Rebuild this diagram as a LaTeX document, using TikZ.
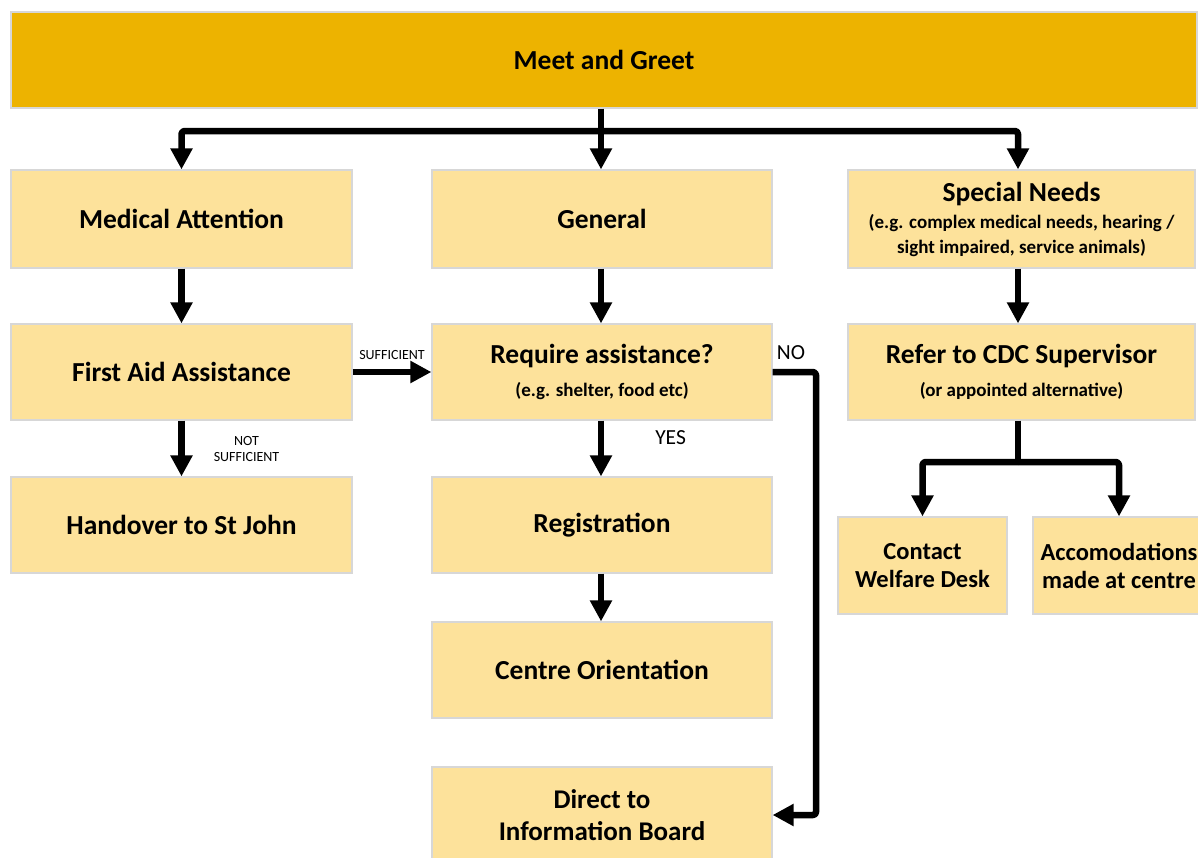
\documentclass[tikz,border=0pt]{standalone}
\usepackage{fontspec}
\setmainfont{Carlito}
\usetikzlibrary{arrows.meta}
\definecolor{boxfill}{RGB}{253,226,155}
\definecolor{barfill}{RGB}{237,179,0}
\definecolor{boxline}{RGB}{215,215,215}
\tikzset{
  box/.style={draw=boxline, line width=1.2pt, fill=boxfill, inner sep=0pt, align=center,
    font=\bfseries\fontsize{27.5}{32}\selectfont},
  topbar/.style={box, fill=barfill},
  link/.style={line width=6.5pt, line join=round, rounded corners=3pt},
  arr/.style={link, -{Triangle[width=21pt,length=21pt]}},
  tag/.style={font=\fontsize{14}{16}\selectfont, align=center, inner sep=1pt},
  bigtag/.style={font=\fontsize{21.5}{24}\selectfont, inner sep=1pt}
}
\newcommand{\subline}[1]{{\fontsize{19}{25}\selectfont #1}}
\begin{document}
\begin{tikzpicture}[x=1pt,y=-1pt]
\useasboundingbox (0,0) rectangle (1198,857);

% header
\node[topbar, minimum width=1186pt, minimum height=96pt] (greet) at (604,60) {Meet and Greet};

% first row
\node[box, minimum width=341pt, minimum height=98pt] (med) at (181.5,219) {Medical Attention};
\node[box, minimum width=340pt, minimum height=98pt] (gen) at (602,219) {General};
\node[box, minimum width=347pt, minimum height=98pt] (spec) at (1021.5,219)
  {Special Needs\\[-5pt]\subline{(e.g. complex medical needs, hearing /}\\[-7pt]\subline{sight impaired, service animals)}};

% second row
\node[box, minimum width=341pt, minimum height=96pt] (fa) at (181.5,372) {First Aid Assistance};
\node[box, minimum width=340pt, minimum height=96pt] (req) at (602,372)
  {Require assistance?\\[1pt]\subline{(e.g. shelter, food etc)}};
\node[box, minimum width=347pt, minimum height=96pt] (ref) at (1021.5,372)
  {Refer to CDC Supervisor\\[1pt]\subline{(or appointed alternative)}};

% third row
\node[box, minimum width=341pt, minimum height=96pt] (hand) at (181.5,525) {Handover to St John};
\node[box, minimum width=340pt, minimum height=96pt] (reg) at (602,525) {\raisebox{-2pt}{Registration}};
\node[box, minimum width=169pt, minimum height=97pt, font=\bfseries\fontsize{24.5}{28}\selectfont] (wel) at (922.5,565.5) {Contact\\Welfare Desk};
\node[box, minimum width=172pt, minimum height=97pt, font=\bfseries\fontsize{24.5}{28}\selectfont] (acc) at (1119,565.5) {Accomodations\\made at centre};

% lower rows
\node[box, minimum width=340pt, minimum height=96pt] (ori) at (602,670) {Centre Orientation};
\node[box, minimum width=340pt, minimum height=96pt, font=\bfseries\fontsize{27}{32}\selectfont] (dib) at (602,815) {Direct to\\Information Board};

% split below the header
\coordinate (hsplit) at (601,131);
\draw[link] (greet.south -| hsplit) -- (hsplit);
\draw[arr] (hsplit) -| (med.north);
\draw[arr] (hsplit) -- (hsplit |- gen.north);
\draw[arr] (hsplit) -| (spec.north -| 1018,0);

% medical branch
\draw[arr] (med.south) -- (fa.north);
\draw[arr] (fa.south) -- (hand.north)
  node[pos=0.5, right=28pt, tag] {NOT\\SUFFICIENT};
\draw[arr] (fa.east) -- (req.west |- fa.east)
  node[pos=0.5, above=8pt, tag] {SUFFICIENT};

% general branch
\draw[arr] (gen.south -| hsplit) -- (req.north -| hsplit);
\draw[arr] (req.south -| hsplit) -- (reg.north -| hsplit)
  node[pos=0.3, right=50pt, bigtag] {YES};
\draw[arr] (reg.south -| hsplit) -- (ori.north -| hsplit);
\coordinate (noturn) at (816,372);
\draw[arr] (req.east |- noturn) -- (noturn) |- (dib.east);
\node[bigtag] (nolabel) at (791,353) {NO};

% special needs branch
\coordinate (ssplit) at (1018,462);
\draw[arr] (spec.south -| ssplit) -- (ref.north -| ssplit);
\draw[link] (ref.south -| ssplit) -- (ssplit);
\draw[arr] (ssplit) -| (wel.north);
\draw[arr] (ssplit) -| (acc.north);
\end{tikzpicture}
\end{document}
